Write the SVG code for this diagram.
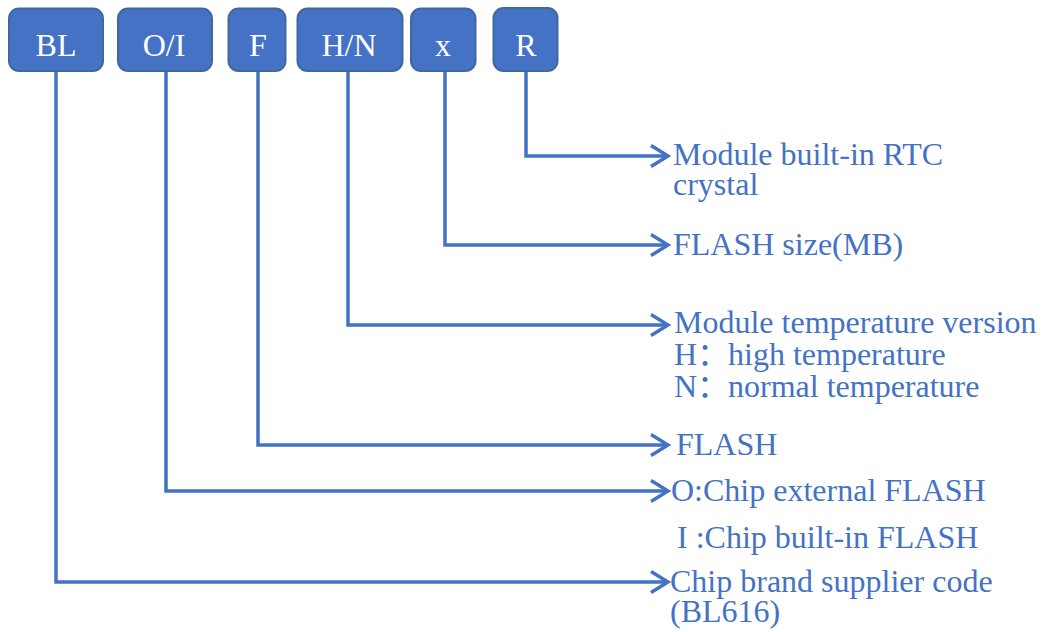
<svg xmlns="http://www.w3.org/2000/svg" width="1047" height="632" viewBox="0 0 1047 632">
<defs>
<style>
.box{fill:#4472C4;stroke:#41679F;stroke-width:2}
.bt{font-family:'Liberation Serif','DejaVu Serif',serif;font-size:32px;fill:#ffffff;text-anchor:middle}
.lbl{font-family:'Liberation Serif','DejaVu Serif','Noto Sans CJK SC',serif;font-size:32px;fill:#4472C4}
.ln{fill:none;stroke:#4472C4;stroke-width:3.5}
</style>
<marker id="arr" markerWidth="24" markerHeight="28" refX="20" refY="14" orient="auto" markerUnits="userSpaceOnUse">
<polyline points="3,3.5 20,14 3,24.5" fill="none" stroke="#4472C4" stroke-width="3.5"/>
</marker>
</defs>
<rect width="1047" height="632" fill="#ffffff"/>
<g id="connectors">
<polyline class="ln" points="526,71 526,156 668,156" marker-end="url(#arr)"/>
<polyline class="ln" points="445,71 445,245 668,245" marker-end="url(#arr)"/>
<polyline class="ln" points="348,71 348,325 668,325" marker-end="url(#arr)"/>
<polyline class="ln" points="258,71 258,445 668,445" marker-end="url(#arr)"/>
<polyline class="ln" points="166,71 166,491 668,491" marker-end="url(#arr)"/>
<polyline class="ln" points="56,71 56,582 668,582" marker-end="url(#arr)"/>
</g>
<g id="node-BL"><rect class="box" x="9" y="8.5" width="94" height="62.5" rx="10"/><text class="bt" x="56" y="56">BL</text></g>
<g id="node-OI"><rect class="box" x="118" y="8.5" width="94" height="62.5" rx="10"/><text class="bt" x="164" y="56">O/I</text></g>
<g id="node-F"><rect class="box" x="228.5" y="8.5" width="57" height="62.5" rx="10"/><text class="bt" x="258" y="56">F</text></g>
<g id="node-HN"><rect class="box" x="297.5" y="8.5" width="105" height="62.5" rx="10"/><text class="bt" x="349" y="56">H/N</text></g>
<g id="node-x"><rect class="box" x="411" y="8.5" width="64.5" height="62.5" rx="10"/><text class="bt" x="443" y="56">x</text></g>
<g id="node-R"><rect class="box" x="493.5" y="8" width="64" height="63" rx="10"/><text class="bt" x="526" y="56">R</text></g>
<g id="labels">
<text class="lbl" x="673" y="165">Module built-in RTC<tspan x="673" y="195">crystal</tspan></text>
<text class="lbl" x="673" y="255">FLASH size(MB)</text>
<text class="lbl" x="674" y="333">Module temperature version<tspan x="674" y="365">H</tspan><tspan x="697" y="365">：</tspan><tspan x="728" y="365">high temperature</tspan><tspan x="674" y="397">N</tspan><tspan x="697" y="397">：</tspan><tspan x="728" y="397">normal temperature</tspan></text>
<text class="lbl" x="676" y="455">FLASH</text>
<text class="lbl" x="671" y="501">O:Chip external FLASH</text>
<text class="lbl" x="677" y="548">I :Chip built-in FLASH</text>
<text class="lbl" x="670" y="592">Chip brand supplier code<tspan x="670" y="622">(BL616)</tspan></text>
</g>
</svg>
